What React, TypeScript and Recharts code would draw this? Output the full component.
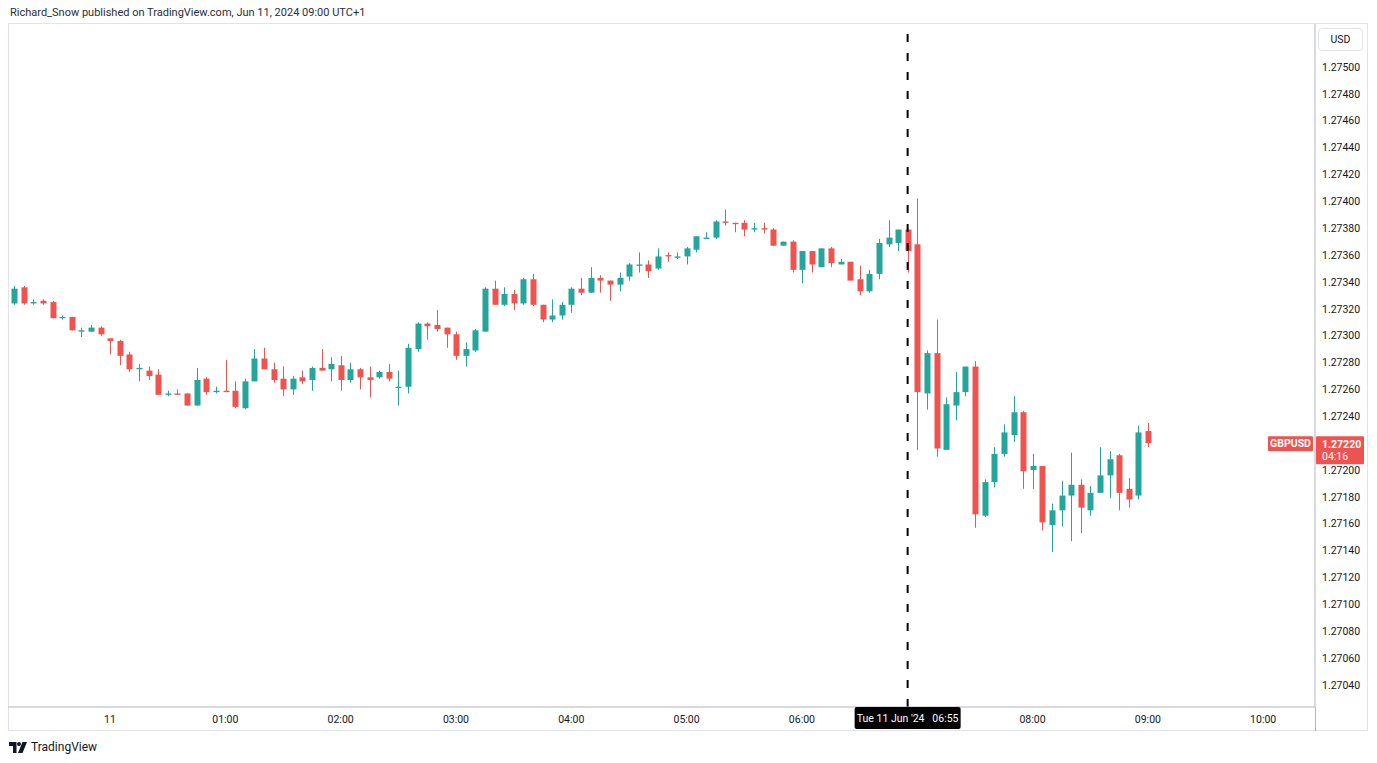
import React from 'react';
import { ComposedChart, Bar, XAxis, YAxis, ReferenceLine } from 'recharts';

// GBPUSD 5m, first bar is 23:10 on Jun 10 (minutes relative to 00:00 Jun 11)
const startMinute = -50;

const opens = [
  1.27324, 1.27336, 1.27324, 1.27326, 1.27325, 1.27313, 1.27314, 1.27303, 1.27303, 1.27306,
  1.27298, 1.27296, 1.27286, 1.27275, 1.27274, 1.27271, 1.27256, 1.27257, 1.27257, 1.27248,
  1.27268, 1.27258, 1.27259, 1.27259, 1.27246, 1.27266, 1.27283, 1.27275, 1.27268, 1.2726,
  1.27269, 1.27267, 1.27276, 1.27275, 1.27278, 1.27267, 1.27275, 1.27269, 1.27269, 1.27273,
  1.27261, 1.27262, 1.2729, 1.27309, 1.27308, 1.27306, 1.27301, 1.27285, 1.27289, 1.27303,
  1.27335, 1.27323, 1.27331, 1.27324, 1.27342, 1.27323, 1.27312, 1.27315, 1.27323, 1.27335,
  1.27332, 1.27343, 1.27341, 1.27338, 1.27344, 1.27352, 1.27353, 1.2735, 1.2736, 1.27358,
  1.27359, 1.27364, 1.27372, 1.27373, 1.27385, 1.27384, 1.27384, 1.27379, 1.2738, 1.27379,
  1.27367, 1.2737, 1.27349, 1.27363, 1.27351, 1.27365, 1.27353, 1.27355, 1.27342, 1.27333,
  1.27346, 1.27368, 1.27369, 1.27379, 1.27368, 1.27257, 1.27287, 1.27215, 1.27248, 1.27258,
  1.27277, 1.27166, 1.27191, 1.27212, 1.27226, 1.27243, 1.272, 1.27203, 1.27159, 1.2717,
  1.27181, 1.27189, 1.2717, 1.27183, 1.27196, 1.27211, 1.27186, 1.27181, 1.27229,
];

const highs = [
  1.27337, 1.27337, 1.27327, 1.27327, 1.27326, 1.27315, 1.27314, 1.27306, 1.27308, 1.27307,
  1.27298, 1.27297, 1.27288, 1.27279, 1.27277, 1.27275, 1.27259, 1.2726, 1.27257, 1.27276,
  1.27269, 1.27262, 1.27282, 1.27266, 1.27268, 1.2729, 1.27291, 1.2728, 1.27277, 1.2727,
  1.27274, 1.27277, 1.2729, 1.27284, 1.27285, 1.2728, 1.27276, 1.27277, 1.27274, 1.27279,
  1.27274, 1.27294, 1.2731, 1.2731, 1.27319, 1.27306, 1.27303, 1.27295, 1.27305, 1.27336,
  1.27341, 1.27336, 1.27334, 1.27343, 1.27346, 1.27323, 1.27327, 1.27325, 1.27336, 1.27343,
  1.27351, 1.27345, 1.27341, 1.27347, 1.27354, 1.27362, 1.27356, 1.27365, 1.27362, 1.27362,
  1.27366, 1.27374, 1.27377, 1.27386, 1.27394, 1.27384, 1.27386, 1.27384, 1.27384, 1.2738,
  1.2737, 1.27371, 1.27363, 1.27363, 1.27365, 1.27366, 1.27357, 1.27355, 1.27352, 1.27349,
  1.27372, 1.27386, 1.27379, 1.27379, 1.27402, 1.27289, 1.27312, 1.27254, 1.27273, 1.27277,
  1.27281, 1.27193, 1.27217, 1.27234, 1.27255, 1.27244, 1.27212, 1.27203, 1.27175, 1.27192,
  1.27213, 1.27193, 1.27188, 1.27217, 1.27214, 1.27212, 1.27194, 1.27233, 1.27235,
];

const lows = [
  1.27323, 1.27323, 1.27323, 1.27323, 1.27313, 1.27312, 1.27304, 1.27299, 1.27303, 1.273,
  1.27286, 1.27278, 1.27273, 1.27266, 1.27267, 1.27256, 1.27255, 1.27256, 1.27248, 1.27248,
  1.27256, 1.27257, 1.27258, 1.27246, 1.27245, 1.27266, 1.27275, 1.27265, 1.27255, 1.27256,
  1.27264, 1.27259, 1.27274, 1.27266, 1.27259, 1.27265, 1.2726, 1.27254, 1.27268, 1.27266,
  1.27248, 1.27257, 1.27288, 1.27297, 1.27303, 1.27291, 1.27282, 1.27277, 1.27288, 1.27303,
  1.27323, 1.27322, 1.27319, 1.27323, 1.27322, 1.2731, 1.2731, 1.27312, 1.27317, 1.2733,
  1.27332, 1.27332, 1.27326, 1.27333, 1.27341, 1.27347, 1.27343, 1.27349, 1.27355, 1.27357,
  1.27353, 1.27362, 1.27372, 1.27372, 1.27382, 1.27377, 1.27374, 1.27377, 1.27376, 1.27367,
  1.27367, 1.27347, 1.27339, 1.27347, 1.27351, 1.27351, 1.27353, 1.27341, 1.2733, 1.27332,
  1.27342, 1.27366, 1.27363, 1.27347, 1.27215, 1.27245, 1.2721, 1.27215, 1.27237, 1.27255,
  1.27157, 1.27165, 1.27187, 1.2721, 1.27221, 1.27186, 1.27186, 1.27155, 1.27139, 1.27158,
  1.27147, 1.27153, 1.27166, 1.27183, 1.27179, 1.2717, 1.27172, 1.27178, 1.27217,
];

const closes = [
  1.27335, 1.27324, 1.27325, 1.27324, 1.27313, 1.27314, 1.27304, 1.27304, 1.27306, 1.27301,
  1.27296, 1.27285, 1.27275, 1.27276, 1.2727, 1.27256, 1.27257, 1.27256, 1.27248, 1.27267,
  1.27258, 1.27259, 1.27258, 1.27247, 1.27266, 1.27283, 1.27275, 1.27267, 1.2726, 1.27268,
  1.27266, 1.27276, 1.27274, 1.27279, 1.27267, 1.27275, 1.27269, 1.27267, 1.27273, 1.27268,
  1.27262, 1.27291, 1.27309, 1.27307, 1.27305, 1.27301, 1.27285, 1.2729, 1.27304, 1.27335,
  1.27323, 1.27331, 1.27324, 1.27342, 1.27323, 1.27312, 1.27315, 1.27323, 1.27335, 1.27332,
  1.27343, 1.27341, 1.27338, 1.27343, 1.27353, 1.27353, 1.27348, 1.27359, 1.27359, 1.27359,
  1.27365, 1.27374, 1.27373, 1.27385, 1.27384, 1.27383, 1.27379, 1.2738, 1.27379, 1.27367,
  1.2737, 1.27349, 1.27363, 1.27353, 1.27365, 1.27354, 1.27355, 1.27341, 1.27333, 1.27346,
  1.27369, 1.27373, 1.27379, 1.27363, 1.27258, 1.27287, 1.27216, 1.27249, 1.27258, 1.27277,
  1.27167, 1.27191, 1.27212, 1.27228, 1.27243, 1.27199, 1.27203, 1.27161, 1.2717, 1.27181,
  1.27189, 1.27172, 1.27183, 1.27196, 1.27208, 1.27183, 1.27178, 1.27228, 1.2722,
];

const timeTicks = [0, 60, 120, 180, 240, 300, 360, 415, 480, 540, 600];
const timeLabels = ['11', '01:00', '02:00', '03:00', '04:00', '05:00', '06:00', "Tue 11 Jun '24   06:55", '08:00', '09:00', '10:00'];
const crosshairMinute = 415;

// 1.27220 sits under the last-price badge, so it is left out
const priceTicks = [
  1.2704, 1.2706, 1.2708, 1.271, 1.2712, 1.2714, 1.2716, 1.2718, 1.272, 1.2724, 1.2726,
  1.2728, 1.273, 1.2732, 1.2734, 1.2736, 1.2738, 1.274, 1.2742, 1.2744, 1.2746, 1.2748, 1.275,
];

const UP = '#26a69a';
const DOWN = '#ef5350';
const TEXT = '#131722';
const FONT = 'Roboto, "Noto Sans", sans-serif';

const data = opens.map((o, i) => ({
  t: startMinute + i * 5,
  o,
  h: highs[i],
  l: lows[i],
  c: closes[i],
  range: [lows[i], highs[i]],
}));

const lastClose = closes[closes.length - 1];

function Candle(props: any) {
  const { x, y, width, height, payload } = props;
  const { o, h, l, c } = payload;
  const color = c >= o ? UP : DOWN;
  const span = h - l;
  const toY = (v: number) => (span === 0 ? y : y + ((h - v) / span) * height);
  const top = toY(Math.max(o, c));
  const bottom = toY(Math.min(o, c));
  const cx = Math.round(x + width / 2) + 0.5;
  return (
    <g>
      <line x1={cx} x2={cx} y1={y} y2={y + Math.max(height, 1)} stroke={color} strokeWidth={1} />
      <rect x={cx - width / 2} y={top} width={width} height={Math.max(1, bottom - top)} fill={color} />
    </g>
  );
}

function TimeTick(props: any) {
  const { x, y, payload } = props;
  const idx = timeTicks.indexOf(payload.value);
  const label = idx >= 0 ? timeLabels[idx] : '';
  if (payload.value === crosshairMinute) {
    return (
      <g>
        <rect x={x - 53} y={y} width={106} height={22} rx={2} fill="#000" />
        <text x={x} y={y + 15} textAnchor="middle" fill="#fff" fontSize={10.5} fontFamily={FONT} style={{ whiteSpace: 'pre' }}>
          {label}
        </text>
      </g>
    );
  }
  return (
    <text x={x} y={y + 16} textAnchor="middle" fill={TEXT} fontSize={10.5} fontFamily={FONT}>
      {label}
    </text>
  );
}

function LastPriceLabel(props: any) {
  const vb = props.viewBox || {};
  const right = vb.x + vb.width;
  const y = vb.y;
  return (
    <g>
      <rect x={right - 47} y={y - 7} width={45} height={15} rx={1} fill={DOWN} />
      <text x={right - 24.5} y={y + 4} textAnchor="middle" fill="#fff" fontSize={10.5} fontWeight={700} fontFamily={FONT}>
        GBPUSD
      </text>
      <rect x={right + 1} y={y - 7} width={48} height={28} rx={1} fill={DOWN} />
      <text x={right + 7} y={y + 5} fill="#fff" fontSize={10.5} fontWeight={700} fontFamily={FONT}>
        {lastClose.toFixed(5)}
      </text>
      <text x={right + 7} y={y + 17} fill="#fff" fontSize={10.5} fontFamily={FONT}>
        04:16
      </text>
    </g>
  );
}

export default function App() {
  return (
    <div style={{ position: 'absolute', left: 0, top: 0, width: 1377, height: 763, background: '#fff', fontFamily: FONT, color: TEXT }}>
      <div style={{ position: 'absolute', left: 10, top: 6, fontSize: 11, color: '#2a2e39', whiteSpace: 'nowrap' }}>
        Richard_Snow published on TradingView.com, Jun 11, 2024 09:00 UTC+1
      </div>
      <div style={{ position: 'absolute', left: 8, top: 23, width: 1360, height: 708, border: '1px solid #e0e3eb', boxSizing: 'border-box' }} />
      <div style={{ position: 'absolute', left: 1315, top: 707, width: 1, height: 24, background: '#b2b5be' }} />
      <div style={{ position: 'absolute', left: 8, top: 24 }}>
        <ComposedChart width={1360} height={707} data={data} margin={{ top: 0, right: 0, bottom: 0, left: 0 }}>
          <XAxis
            dataKey="t"
            type="number"
            domain={[-53.07, 626.95]}
            allowDataOverflow
            ticks={timeTicks}
            interval={0}
            tick={<TimeTick />}
            tickLine={false}
            tickSize={0}
            tickMargin={0}
            axisLine={{ stroke: '#b2b5be' }}
            height={24}
          />
          <YAxis
            orientation="right"
            type="number"
            domain={[1.270236, 1.27532]}
            allowDataOverflow
            ticks={priceTicks}
            interval={0}
            tickFormatter={(v: number) => v.toFixed(5)}
            width={53}
            tickLine={false}
            tickSize={0}
            tickMargin={7}
            axisLine={{ stroke: '#b2b5be' }}
            tick={{ fill: TEXT, fontSize: 10.5, fontFamily: FONT }}
          />
          <Bar dataKey="range" barSize={6} shape={<Candle />} isAnimationActive={false} />
          <ReferenceLine x={crosshairMinute} stroke="#000" strokeWidth={2} strokeDasharray="8 11" />
          <ReferenceLine y={lastClose} stroke="none" strokeOpacity={0} label={<LastPriceLabel />} />
        </ComposedChart>
      </div>
      <div style={{ position: 'absolute', left: 1318, top: 28, width: 45, height: 23, border: '1px solid #e0e3eb', borderRadius: 4, boxSizing: 'border-box', fontSize: 10.5, lineHeight: '21px', textAlign: 'center', background: '#fff' }}>
        USD
      </div>
      <div style={{ position: 'absolute', left: 9, top: 740, display: 'flex', alignItems: 'center', gap: 4 }}>
        <svg width={18} height={11} viewBox="0 0 18 11">
          <path d="M0 0h7.5v11h-3.5v-7h-4z" fill={TEXT} />
          <circle cx={10} cy={2} r={2} fill={TEXT} />
          <path d="M13.5 0h4.5l-4.5 11h-4.5z" fill={TEXT} />
        </svg>
        <span style={{ fontSize: 12, color: TEXT }}>TradingView</span>
      </div>
    </div>
  );
}
